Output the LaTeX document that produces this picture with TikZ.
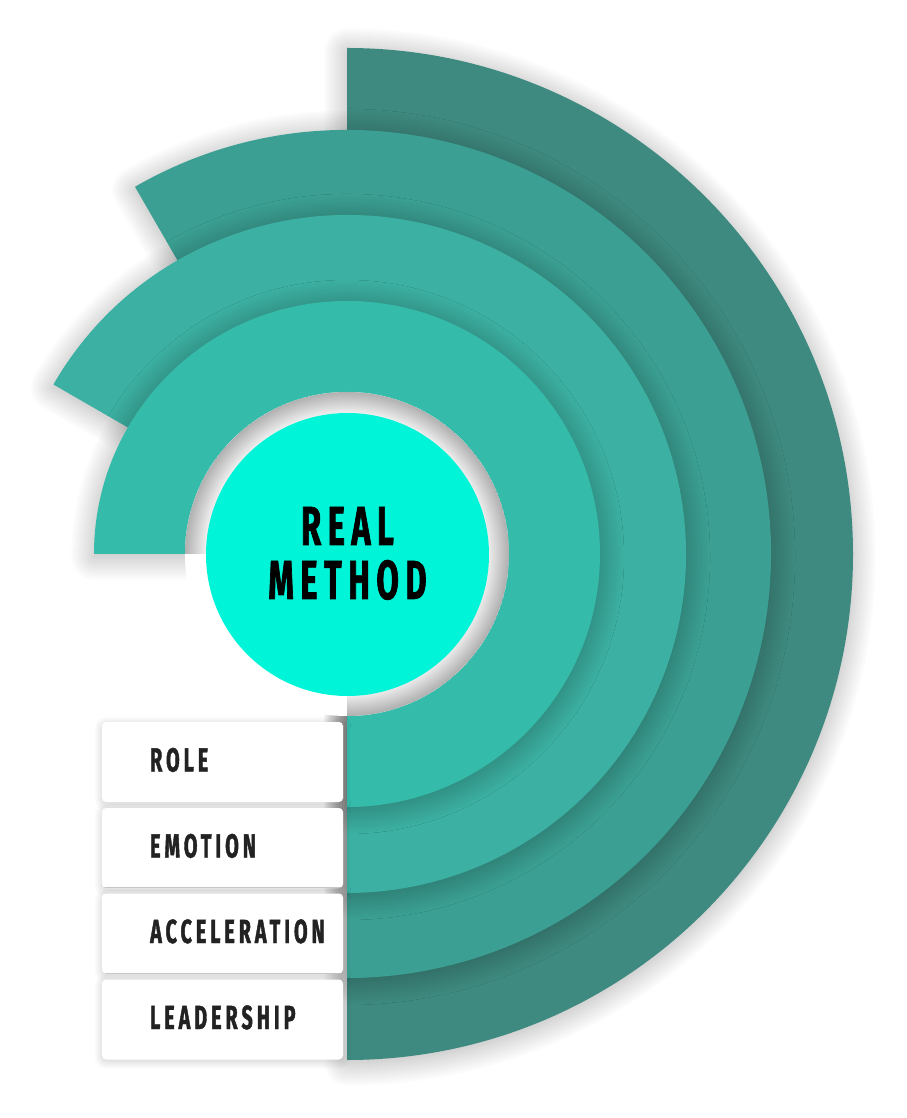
\documentclass[tikz,border=0pt]{standalone}
\usepackage{fontspec}
\newfontfamily\bebas[FakeStretch=0.59,LetterSpace=12,FakeBold=1.2]{Fira Sans}
\usetikzlibrary{shadows.blur}
\definecolor{ringA}{RGB}{53,187,170}
\definecolor{ringB}{RGB}{60,176,162}
\definecolor{ringC}{RGB}{59,160,147}
\definecolor{ringD}{RGB}{62,138,128}
\definecolor{core}{RGB}{0,245,216}
\definecolor{labeltext}{RGB}{34,34,34}
\begin{document}
\begin{tikzpicture}[x=1pt,y=1pt,
  ringshadow/.style={blur shadow={shadow xshift=0pt,shadow yshift=-3pt,shadow blur radius=24pt,shadow blur steps=48,shadow opacity=32}},
  labelbox/.style={draw=none,fill=white,rounded corners=4pt,minimum width=241pt,minimum height=80pt,inner sep=0pt,
    blur shadow={shadow xshift=0pt,shadow yshift=-2pt,shadow blur radius=8pt,shadow blur steps=16,shadow opacity=20}},
  labeltxt/.style={anchor=base west,inner sep=0pt,text=labeltext,font=\bebas\bfseries\fontsize{33.4}{40}\selectfont},
  coretxt/.style={anchor=base,inner sep=0pt,text=black,font=\bebas\bfseries\fontsize{55}{60}\selectfont}]
\useasboundingbox (-347,-564) rectangle (559,554);
\coordinate (c) at (0,0);
% rings, outermost first
\fill[ringD,ringshadow] (c) -- (90:506) arc[start angle=90,end angle=-90,radius=506] -- cycle;
\fill[ringC,ringshadow] (c) -- (120:424) arc[start angle=120,end angle=-90,radius=424] -- cycle;
\fill[ringB,ringshadow] (c) -- (150:339) arc[start angle=150,end angle=-90,radius=339] -- cycle;
\fill[ringA,ringshadow] (c) -- (180:253) arc[start angle=180,end angle=-90,radius=253] -- cycle;
% hole
\fill[white] (c) circle[radius=162];
\begin{scope}
  \clip (c) -- (180:170) arc[start angle=180,end angle=-90,radius=170] -- cycle;
  \clip (c) circle[radius=162];
  \fill[white!93!black] (c) circle[radius=162];
  \foreach \w in {2,4,...,40} {
    \draw[black,opacity=0.013,line width=\w pt] (c) circle[radius=162];
  }
\end{scope}
% core
\node[circle,fill=core,minimum size=283pt,inner sep=0pt] (core) at (0.5,-0.5) {};
\node[coretxt] (real) at (0.5,9) {REAL};
\node[coretxt] (method) at (0.5,-45) {METHOD};
% labels
\node[labelbox] (b1) at (-124.5,-208) {};
\node[labelbox] (b2) at (-124.5,-294) {};
\node[labelbox] (b3) at (-124.5,-379.5) {};
\node[labelbox] (b4) at (-124.5,-465.5) {};
\node[labeltxt] (t1) at ([shift={(-72.5,-9.5)}]b1.center) {ROLE};
\node[labeltxt] (t2) at ([shift={(-72.5,-9.5)}]b2.center) {EMOTION};
\node[labeltxt] (t3) at ([shift={(-72.5,-9.5)}]b3.center) {ACCELERATION};
\node[labeltxt] (t4) at ([shift={(-72.5,-9.5)}]b4.center) {LEADERSHIP};
\end{tikzpicture}
\end{document}
